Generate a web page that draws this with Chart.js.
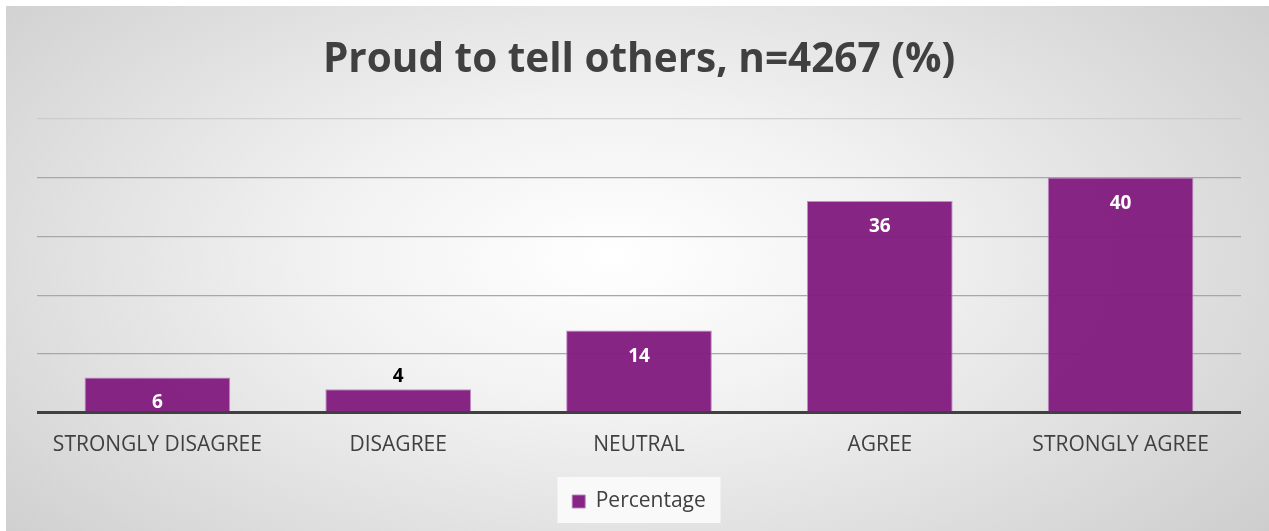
<!DOCTYPE html>
<html>
<head>
<meta charset="utf-8">
<script src="https://cdn.jsdelivr.net/npm/chart.js@4/dist/chart.umd.min.js"></script>
<style>
  html, body { margin: 0; padding: 0; background: #ffffff; }
  #wrap {
    position: absolute; left: 6px; top: 6px; width: 1263px; height: 525px;
    background: radial-gradient(ellipse 75% 95% at 48% 48%, #ffffff 0%, #f2f2f2 30%, #d9d9d9 70%, #c6c6c6 100%);
  }
  canvas { display: block; }
</style>
</head>
<body>
<div id="wrap"><canvas id="c" width="1263" height="525"></canvas></div>
<script>
const categories = ["STRONGLY DISAGREE", "DISAGREE", "NEUTRAL", "AGREE", "STRONGLY AGREE"];
const percentage = [6, 4, 14, 36, 40];
const seriesName = "Percentage";
const titleText = "Proud to tell others, n=4267 (%)";
const yMax = 50;
const yStep = 10;

const FONT = "'Open Sans', 'Noto Sans', sans-serif";
const PURPLE = "rgba(130, 30, 128, 0.97)";

const labelPlugin = {
  id: 'barLabels',
  afterDatasetsDraw(chart) {
    const ctx = chart.ctx;
    const meta = chart.getDatasetMeta(0);
    ctx.save();
    ctx.font = "bold 19px " + FONT;
    ctx.textAlign = 'center';
    ctx.textBaseline = 'middle';
    meta.data.forEach((bar, i) => {
      const v = chart.data.datasets[0].data[i];
      const h = bar.base - bar.y;
      let y, color;
      if (h < 26) { y = bar.y - 13; color = '#000000'; }
      else { y = Math.min(bar.y + 26, bar.base - 9); color = '#ffffff'; }
      ctx.fillStyle = color;
      ctx.fillText(String(v), bar.x, y);
    });
    ctx.restore();
  }
};

const legendBgPlugin = {
  id: 'legendBg',
  beforeDraw(chart) {
    const l = chart.legend;
    if (!l) return;
    const ctx = chart.ctx;
    ctx.save();
    ctx.fillStyle = 'rgba(250,250,250,0.95)';
    const w = 163, h = 46;
    const cx = (l.left + l.right) / 2;
    const cy = (l.top + l.bottom) / 2;
    ctx.fillRect(cx - w / 2, cy - h / 2, w, h);
    ctx.restore();
  }
};

new Chart(document.getElementById('c'), {
  type: 'bar',
  data: {
    labels: categories,
    datasets: [{
      label: seriesName,
      data: percentage,
      backgroundColor: PURPLE,
      borderColor: 'rgba(190, 130, 195, 0.9)',
      borderWidth: 1,
      barPercentage: 0.605,
      categoryPercentage: 1.0
    }]
  },
  options: {
    responsive: false,
    animation: false,
    layout: { padding: { left: 31, right: 28, top: 0, bottom: 9 } },
    scales: {
      x: {
        grid: { display: false, drawTicks: false },
        border: { display: false },
        ticks: { color: '#404040', font: { family: FONT, size: 21 }, padding: 20, maxRotation: 0, autoSkip: false }
      },
      y: {
        min: 0, max: yMax,
        ticks: { display: false, stepSize: yStep },
        border: { display: false },
        grid: {
          drawTicks: false,
          color: (c) => c.tick.value === 0 ? '#404040' : (c.tick.value === yMax ? 'rgba(200,200,200,0.8)' : '#a8a8a8'),
          lineWidth: (c) => c.tick.value === 0 ? 3 : 1.2
        }
      }
    },
    plugins: {
      title: {
        display: true,
        text: titleText,
        color: '#404040',
        font: { family: FONT, size: 40.5, weight: 'bold' },
        padding: { top: 30, bottom: 34 }
      },
      legend: {
        display: true,
        position: 'bottom',
        labels: {
          color: '#404040',
          font: { family: FONT, size: 21 },
          boxWidth: 13, boxHeight: 13,
          padding: 13,
          useBorderRadius: false
        }
      },
      tooltip: { enabled: false }
    }
  },
  plugins: [legendBgPlugin, labelPlugin]
});
</script>
</body>
</html>
